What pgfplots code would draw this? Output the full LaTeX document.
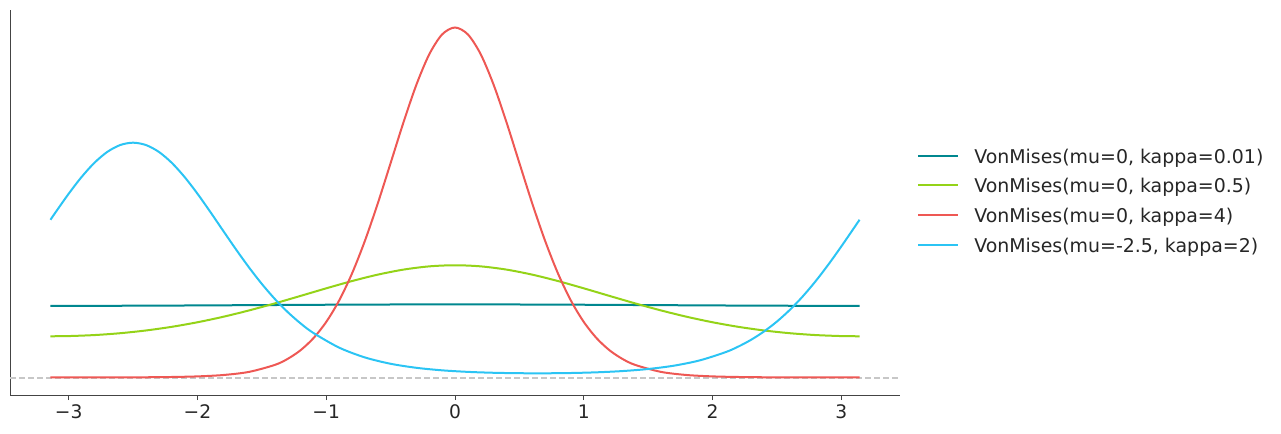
\documentclass[border=0pt]{standalone}
\usepackage{fontspec}
\setmainfont{DejaVu Sans}
\usepackage{pgfplots}
\pgfplotsset{compat=1.18}

\definecolor{cteal}{RGB}{0,135,143}
\definecolor{cgreen}{RGB}{148,211,24}
\definecolor{cred}{RGB}{238,88,84}
\definecolor{ccyan}{RGB}{43,196,244}
\definecolor{spine}{RGB}{68,68,68}

\begin{document}
\begin{tikzpicture}
\begin{axis}[
    name=ax,
    scale only axis,
    width=667.5pt,
    height=288.75pt,
    xmin=-3.4558, xmax=3.4558,
    ymin=-0.0382, ymax=0.8073,
    axis x line*=bottom,
    axis y line*=left,
    axis line style={draw=spine, line width=0.75pt},
    ytick=\empty,
    xtick={-3,-2,-1,0,1,2,3},
    xticklabels={−3,−2,−1,0,1,2,3},
    tick align=outside,
    major tick length=3.75pt,
    tick style={draw=spine, line width=0.75pt},
    xticklabel style={font=\fontsize{14}{16}\selectfont, text=black!85},
    legend style={
        draw=none, fill=none,
        at={(rel axis cs:1.0146,0.497)}, anchor=west,
        font=\fontsize{14.2}{16}\selectfont,
        text=black!85,
        row sep=9.25pt,
        column sep=11.25pt,
        nodes={inner sep=0pt, text height=9.5pt, text depth=3.5pt},
    },
    legend cell align=left,
    legend image code/.code={\draw[#1] (0pt,2.6pt) -- (30pt,2.6pt);},
    every axis plot/.append style={line width=1.5pt},
]

% baseline at zero
\addplot[color=black!22, line width=1.4pt, dash pattern=on 4.5pt off 2.25pt, forget plot]
  coordinates {(-3.4558,0) (3.4558,0)};

% kappa = 0.01
\addplot[color=cteal, smooth]
  coordinates {
    (-3.1416,0.15757) (-3.0,0.15758) (-2.8,0.15765) (-2.6,0.15779) (-2.4,0.15798)
    (-2.2,0.15822) (-2.0,0.15849) (-1.8,0.15879) (-1.6,0.15911) (-1.4,0.15942)
    (-1.2,0.15973) (-1.0,0.16001) (-0.8,0.16026) (-0.6,0.16047) (-0.4,0.16062)
    (-0.2,0.16071) (0,0.16075) (0.2,0.16071) (0.4,0.16062) (0.6,0.16047)
    (0.8,0.16026) (1.0,0.16001) (1.2,0.15973) (1.4,0.15942) (1.6,0.15911)
    (1.8,0.15879) (2.0,0.15849) (2.2,0.15822) (2.4,0.15798) (2.6,0.15779)
    (2.8,0.15765) (3.0,0.15758) (3.1416,0.15757)
};
\addlegendentry{VonMises(mu=0, kappa=0.01)}

% kappa = 0.5
\addplot[color=cgreen, smooth]
  coordinates {
    (-3.1416,0.09077) (-3.0,0.09123) (-2.8,0.09343) (-2.6,0.09750) (-2.4,0.10351)
    (-2.2,0.11151) (-2.0,0.12154) (-1.8,0.13358) (-1.6,0.14749) (-1.4,0.16293)
    (-1.2,0.17938) (-1.0,0.19607) (-0.8,0.21202) (-0.6,0.22611) (-0.4,0.23719)
    (-0.2,0.24429) (0,0.24674) (0.2,0.24429) (0.4,0.23719) (0.6,0.22611)
    (0.8,0.21202) (1.0,0.19607) (1.2,0.17938) (1.4,0.16293) (1.6,0.14749)
    (1.8,0.13358) (2.0,0.12154) (2.2,0.11151) (2.4,0.10351) (2.6,0.09750)
    (2.8,0.09343) (3.0,0.09123) (3.1416,0.09077)
};
\addlegendentry{VonMises(mu=0, kappa=0.5)}

% kappa = 4
\addplot[color=cred, smooth]
  coordinates {
    (-3.1416,0.0002579) (-3.0,0.0002685) (-2.8,0.000325) (-2.6,0.0004572)
    (-2.4,0.0007374) (-2.2,0.0013376) (-2.0,0.002665) (-1.8,0.005675)
    (-1.6,0.012530) (-1.4,0.027793) (-1.3,0.041054) (-1.2,0.060000)
    (-1.1,0.086426) (-1.0,0.12225) (-0.9,0.16924) (-0.8,0.22854)
    (-0.7,0.30015) (-0.6,0.38232) (-0.5,0.47118) (-0.4,0.56068)
    (-0.3,0.64307) (-0.2,0.70994) (-0.1,0.75364) (0,0.76886)
    (0.1,0.75364) (0.2,0.70994) (0.3,0.64307) (0.4,0.56068)
    (0.5,0.47118) (0.6,0.38232) (0.7,0.30015) (0.8,0.22854)
    (0.9,0.16924) (1.0,0.12225) (1.1,0.086426) (1.2,0.060000)
    (1.3,0.041054) (1.4,0.027793) (1.6,0.012530) (1.8,0.005675)
    (2.0,0.002665) (2.2,0.0013376) (2.4,0.0007374) (2.6,0.0004572)
    (2.8,0.000325) (3.0,0.0002685) (3.1416,0.0002579)
};
\addlegendentry{VonMises(mu=0, kappa=4)}

% mu = -2.5, kappa = 2
\addplot[color=ccyan, smooth]
  coordinates {
    (-3.1416,0.34660) (-3.1,0.36378) (-3.0,0.40385) (-2.9,0.44054) (-2.8,0.47183)
    (-2.7,0.49573) (-2.6,0.51076) (-2.5,0.51589) (-2.4,0.51076) (-2.3,0.49573)
    (-2.2,0.47183) (-2.1,0.44054) (-2.0,0.40385) (-1.9,0.36378) (-1.8,0.32233)
    (-1.7,0.28127) (-1.6,0.24204) (-1.5,0.20571) (-1.4,0.17296) (-1.3,0.14411)
    (-1.2,0.11921) (-1.1,0.098084) (-0.9,0.065857) (-0.7,0.044322) (-0.5,0.030374)
    (-0.3,0.021518) (-0.1,0.015976) (0.1,0.012580) (0.3,0.010606) (0.5,0.0096398)
    (0.7,0.0094810) (0.9,0.010098) (1.1,0.011616) (1.3,0.014353) (1.5,0.018889)
    (1.7,0.026190) (1.9,0.037759) (2.1,0.055789) (2.2,0.068109) (2.3,0.083170)
    (2.4,0.10138) (2.5,0.12313) (2.6,0.14869) (2.7,0.17820) (2.8,0.21159)
    (2.9,0.24846) (3.0,0.28808) (3.1,0.32932) (3.1416,0.34660)
};
\addlegendentry{VonMises(mu=-2.5, kappa=2)}

\end{axis}
\pgfresetboundingbox
\path ([shift={(-7.5pt,-29.25pt)}]ax.south west) rectangle ([shift={(285.75pt,7.5pt)}]ax.north east);
\end{tikzpicture}
\end{document}
